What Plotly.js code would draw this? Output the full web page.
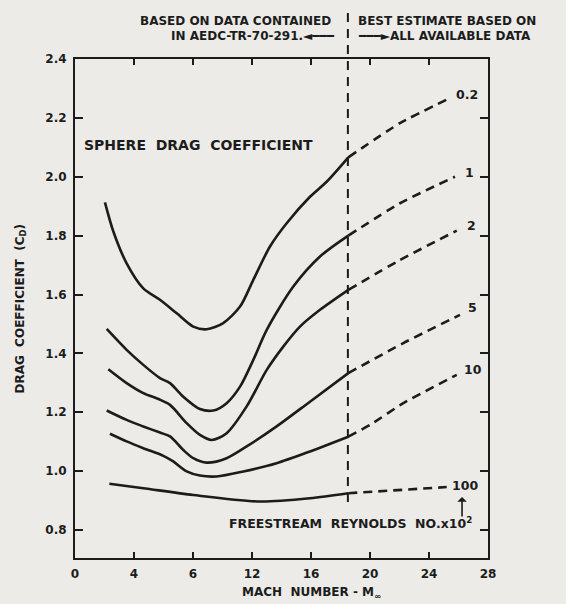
<!DOCTYPE html>
<html>
<head>
<meta charset="utf-8">
<script src="https://cdn.plot.ly/plotly-3.0.1.min.js"></script>
<style>
html,body{margin:0;padding:0;background:#ecebe7;}
#chart{width:566px;height:604px;}
</style>
</head>
<body>
<div id="chart"></div>
<script>
// Reynolds number labels (x10^2)
const reLabels = ["0.2", "1", "2", "5", "10", "100"];

// Solid portions (data based), Mach number vs drag coefficient
const mach02 = [2.03, 2.6, 3.5, 4.63, 5.76, 6.9, 8.02, 8.93, 10.05, 11.19, 12.09, 13.22, 14.35, 15.93, 17.06, 18.53];
const cd02   = [1.913, 1.814, 1.706, 1.621, 1.582, 1.536, 1.491, 1.482, 1.503, 1.559, 1.650, 1.763, 1.842, 1.932, 1.983, 2.066];

const mach1 = [2.15, 3.5, 4.63, 5.76, 6.44, 7.34, 8.47, 9.38, 10.28, 11.19, 12.09, 13.0, 14.8, 16.61, 18.53];
const cd1   = [1.483, 1.412, 1.361, 1.316, 1.299, 1.253, 1.211, 1.206, 1.231, 1.287, 1.378, 1.48, 1.627, 1.729, 1.80];

const mach2 = [2.26, 3.5, 4.63, 5.65, 6.44, 7.57, 8.47, 9.27, 10.28, 11.64, 13.0, 14.12, 15.25, 16.61, 18.53];
const cd2   = [1.346, 1.299, 1.265, 1.245, 1.225, 1.163, 1.123, 1.106, 1.129, 1.22, 1.344, 1.423, 1.491, 1.548, 1.616];

const mach5 = [2.15, 3.5, 4.63, 5.76, 6.44, 7.34, 8.02, 8.93, 10.28, 11.64, 13.67, 15.93, 18.53];
const cd5   = [1.206, 1.174, 1.152, 1.131, 1.118, 1.072, 1.044, 1.029, 1.044, 1.084, 1.152, 1.236, 1.333];

const mach10 = [2.37, 3.5, 4.63, 5.99, 6.66, 7.57, 8.47, 9.6, 11.41, 13.67, 15.93, 18.53];
const cd10   = [1.127, 1.101, 1.078, 1.052, 1.033, 0.999, 0.985, 0.982, 0.999, 1.027, 1.067, 1.117];

const mach100 = [2.33, 4.63, 8.02, 12.54, 15.93, 18.53];
const cd100   = [0.957, 0.942, 0.919, 0.897, 0.908, 0.925];

// Dashed portions (best estimate)
const machEst02 = [18.53, 22.03, 25.42];
const cdEst02   = [2.066, 2.182, 2.267];
const machEst1 = [18.53, 22.03, 25.76];
const cdEst1   = [1.80, 1.91, 2.0];
const machEst2 = [18.53, 22.03, 25.88];
const cdEst2   = [1.616, 1.717, 1.817];
const machEst5 = [18.53, 22.26, 26.1];
const cdEst5   = [1.333, 1.435, 1.531];
const machEst10 = [18.53, 20.0, 22.26, 25.88];
const cdEst10   = [1.117, 1.157, 1.231, 1.327];
const machEst100 = [18.53, 25.2];
const cdEst100   = [0.925, 0.946];

// Boundary between data-based and estimated region
const dividerMach = 18.5;

// Axis ticks
const xTickVals = [0, 4, 8, 12, 16, 20, 24, 28];
const xTickText = ["0", "4", "6", "12", "16", "20", "24", "28"];
const yTickVals = [0.8, 1.0, 1.2, 1.4, 1.6, 1.8, 2.0, 2.2, 2.4];
const yTickText = ["0.8", "1.0", "1.2", "1.4", "1.6", "1.8", "2.0", "2.2", "2.4"];

const INK = '#1c1c1c';
const FONT = "DejaVu Sans, Liberation Sans, Arial, sans-serif";

const solid = [[mach02, cd02], [mach1, cd1], [mach2, cd2], [mach5, cd5], [mach10, cd10], [mach100, cd100]];
const est = [[machEst02, cdEst02], [machEst1, cdEst1], [machEst2, cdEst2], [machEst5, cdEst5], [machEst10, cdEst10], [machEst100, cdEst100]];

const traces = [];
solid.forEach((s, i) => {
  traces.push({x: s[0], y: s[1], mode: 'lines', type: 'scatter', name: reLabels[i],
    line: {color: INK, width: 2.6, shape: 'spline', smoothing: 0.8}, hoverinfo: 'skip'});
});
est.forEach((s, i) => {
  traces.push({x: s[0], y: s[1], mode: 'lines', type: 'scatter', name: reLabels[i] + ' est',
    line: {color: INK, width: 2.6, shape: 'spline', smoothing: 0.6, dash: '9px,6px'}, hoverinfo: 'skip'});
});

const labelShift = [[4, 4], [8, 4], [8, 5], [6, 7], [5, 5], [3, 2]];
const annotations = est.map((s, i) => ({
  x: s[0][s[0].length - 1], y: s[1][s[1].length - 1], xref: 'x', yref: 'y',
  text: reLabels[i], showarrow: false, xanchor: 'left', yanchor: 'middle',
  xshift: labelShift[i][0], yshift: labelShift[i][1],
  font: {family: FONT, size: 12.5, color: INK, weight: 700}
}));

annotations.push(
  {x: dividerMach, y: 1.076, xref: 'x', yref: 'paper', xanchor: 'right', yanchor: 'middle', xshift: -15,
   text: 'BASED ON DATA CONTAINED', showarrow: false, font: {family: FONT, size: 12, color: INK, weight: 700}},
  {x: dividerMach, y: 1.046, xref: 'x', yref: 'paper', xanchor: 'right', yanchor: 'middle', xshift: -11,
   text: 'IN AEDC-TR-70-291.◄━━━', showarrow: false, font: {family: FONT, size: 12, color: INK, weight: 700}},
  {x: dividerMach, y: 1.076, xref: 'x', yref: 'paper', xanchor: 'left', yanchor: 'middle', xshift: 8,
   text: 'BEST ESTIMATE BASED ON', showarrow: false, font: {family: FONT, size: 12, color: INK, weight: 700}},
  {x: dividerMach, y: 1.046, xref: 'x', yref: 'paper', xanchor: 'left', yanchor: 'middle', xshift: 8,
   text: '━━━►ALL AVAILABLE DATA', showarrow: false, font: {family: FONT, size: 12, color: INK, weight: 700}},
  {x: 0.47, y: 2.108, xref: 'x', yref: 'y', xanchor: 'left', yanchor: 'middle',
   text: 'SPHERE  DRAG  COEFFICIENT', showarrow: false, font: {family: FONT, size: 14, color: INK, weight: 700}},
  {x: 18.7, y: 0.824, xref: 'x', yref: 'y', xanchor: 'center', yanchor: 'middle',
   text: 'FREESTREAM  REYNOLDS  NO.x10<sup>2</sup>', showarrow: false, font: {family: FONT, size: 12.5, color: INK, weight: 700}},
  {x: 26.24, y: 0.912, xref: 'x', yref: 'y', ax: 0, ay: 21, text: '', showarrow: true,
   arrowhead: 1, arrowsize: 1, arrowwidth: 1.6, arrowcolor: INK},
  {x: -0.133, y: 0.5, xref: 'paper', yref: 'paper', xanchor: 'center', yanchor: 'middle', textangle: -90,
   text: 'DRAG  COEFFICIENT  (C<sub>D</sub>)', showarrow: false, font: {family: FONT, size: 12, color: INK, weight: 700}},
  {x: 0.75, y: -0.07, xref: 'paper', yref: 'paper', xanchor: 'center', yanchor: 'middle',
   text: 'MACH  NUMBER - M<sub>∞</sub>', showarrow: false, font: {family: FONT, size: 12, color: INK, weight: 700}}
);
// place x-title by data coordinate instead
annotations[annotations.length - 1].xref = 'x';
annotations[annotations.length - 1].x = 16.0;

const layout = {
  width: 566, height: 604,
  margin: {l: 75, r: 78, t: 59, b: 46},
  paper_bgcolor: '#ecebe7', plot_bgcolor: '#ecebe7',
  showlegend: false,
  font: {family: FONT, color: INK},
  xaxis: {
    range: [0, 28], tickvals: xTickVals, ticktext: xTickText,
    ticks: 'inside', ticklen: 6, tickwidth: 2, tickcolor: INK,
    showline: true, linecolor: INK, linewidth: 2, mirror: 'ticks',
    showgrid: false, zeroline: false, ticklabelstandoff: 4,
    tickfont: {family: FONT, size: 12, color: INK, weight: 700}
  },
  yaxis: {
    range: [0.705, 2.4], tickvals: yTickVals, ticktext: yTickText,
    ticks: 'inside', ticklen: 8, tickwidth: 2, tickcolor: INK,
    showline: true, linecolor: INK, linewidth: 2, mirror: 'ticks',
    showgrid: false, zeroline: false, ticklabelstandoff: 4,
    tickfont: {family: FONT, size: 12, color: INK, weight: 700}
  },
  shapes: [{
    type: 'line', xref: 'x', yref: 'paper', x0: dividerMach, x1: dividerMach, y0: 0.112, y1: 1.098,
    line: {color: INK, width: 2, dash: '9px,7px'}
  }],
  annotations: annotations
};

Plotly.newPlot('chart', traces, layout, {displayModeBar: false, staticPlot: true});
</script>
</body>
</html>
